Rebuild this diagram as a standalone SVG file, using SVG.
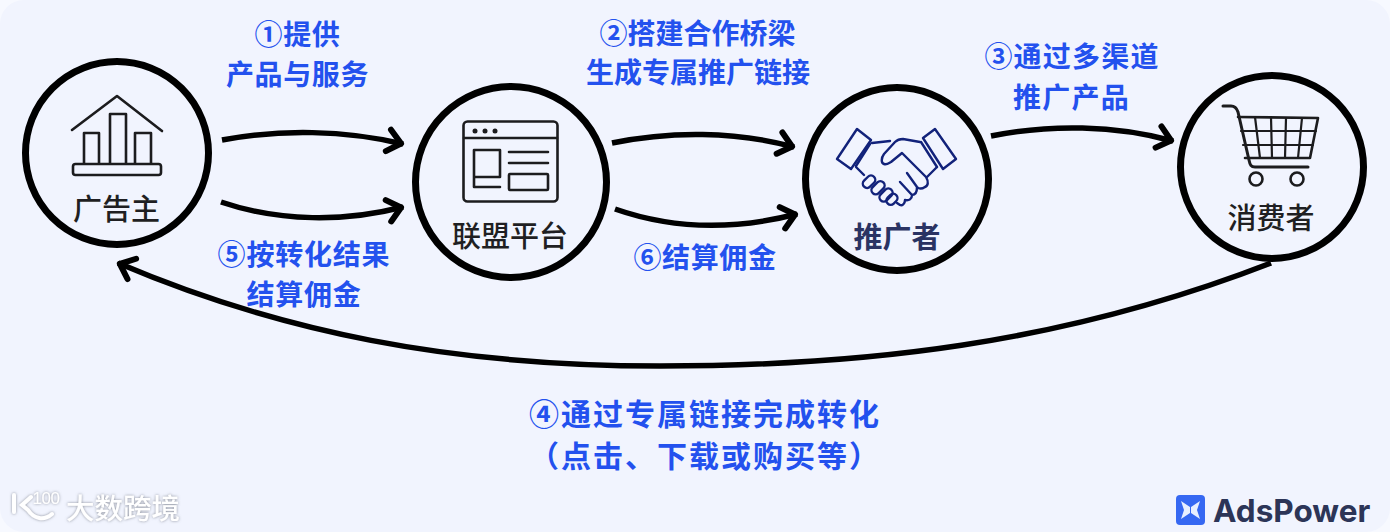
<svg xmlns="http://www.w3.org/2000/svg" width="1390" height="532" viewBox="0 0 1390 532">
<style>
.bl{font-family:"Noto Sans CJK SC","Noto Sans",sans-serif;font-weight:700;font-size:28px;fill:#2351ee;text-anchor:middle;letter-spacing:.6px}
.bg{font-size:30px;letter-spacing:2px}
.nl{font-family:"Noto Sans CJK SC","Noto Sans",sans-serif;font-weight:500;font-size:29px;fill:#1f1f22;text-anchor:middle}
.ring{fill:none;stroke:#000;stroke-width:7}
.ic{fill:none;stroke:#1c1c1e;stroke-width:2.6;stroke-linejoin:round;stroke-linecap:round}
.hs{fill:none;stroke:#12227a;stroke-width:2.4;stroke-linejoin:round;stroke-linecap:round}
.cn{fill:none;stroke:#000;stroke-width:5.5;marker-end:url(#ah)}
.wm{fill:none;stroke:#fff;stroke-linecap:round}
</style>
<defs>
<marker id="ah" markerUnits="userSpaceOnUse" markerWidth="40" markerHeight="40" viewBox="-20 -20 40 40" refX="2" refY="0" orient="auto">
<path d="M-13,-11 L0,0 L-13,11" fill="none" stroke="#000" stroke-width="6" stroke-linecap="round" stroke-linejoin="round"/>
</marker>
<filter id="sh" x="-20%" y="-30%" width="140%" height="160%"><feDropShadow dx="0" dy="0" stdDeviation="1.6" flood-color="#7f8490" flood-opacity="0.9"/></filter>
</defs>
<rect width="1390" height="532" fill="#f7f9ff"/>
<rect width="1390" height="532" rx="24" fill="#f1f4fe"/>

<g id="connectors">
<path class="cn" d="M222,140 C280,129 345,130 403,144"/>
<path class="cn" d="M221,202 C280,222 345,222 403,207"/>
<path class="cn" d="M612,143 C670,131 735,131 794,147"/>
<path class="cn" d="M615,209 C675,230 735,230 797,214"/>
<path class="cn" d="M991,136 C1050,124 1115,125 1173,141"/>
<path class="cn" d="M1271,263 C1060,345 860,366 660,366 C450,366 280,332 118,263"/>
</g>

<g id="advertiser">
<circle class="ring" cx="117" cy="153" r="91.5"/>
<path class="ic" d="M72,130 L117,96 L162,131"/>
<path class="ic" d="M84,163 V133 H99 V163 M110,163 V114 H126 V163 M135,163 V133 H151 V163"/>
<rect class="ic" x="73" y="164" width="88" height="11" rx="2.5"/>
<text class="nl" x="116.500" y="220">广告主</text>
</g>

<g id="platform">
<circle class="ring" cx="511" cy="182" r="95.5"/>
<rect class="ic" x="463.500" y="121.500" width="94" height="80" rx="4"/>
<path class="ic" d="M464,138 H557"/>
<circle cx="475" cy="131" r="2.500" fill="#1c1c1e"/><circle cx="485" cy="131" r="2.500" fill="#1c1c1e"/><circle cx="495" cy="131" r="2.500" fill="#1c1c1e"/>
<path class="ic" d="M474,177 H500 V150 H474 V187 H500"/>
<path class="ic" d="M509,152 H548 M509,163 H548"/>
<rect class="ic" x="509" y="174" width="39" height="16" rx="1"/>
<text class="nl" x="510" y="247">联盟平台</text>
</g>

<g id="promoter">
<circle class="ring" cx="897" cy="179" r="91.5"/>
<path class="hs" d="M857,129 L871,140 L851,169 L837,159 Z M935,129 L956,159 L943,169 L923,138 Z"/>
<path class="hs" d="M870,144 L856,166 M921,142 L937,167"/>
<path class="hs" d="M872,143 L890,141 M920,142 L903,139 C899,139 897,140 895,142 L884,154 C881,158 881,163 884,164 C887,165 889,163 891,162 L902,153 L926,177 C929,182 928,186 925,187 C922,189 919,189 917,187 L907,173 M917,187 C917,192 916,195 912,195 L900,182 M912,195 C912,199 909,201 905,200 M905,200 C905,204 902,206 900,205 L897,203"/>
<path class="hs" d="M856,167 L864,175 M937,167 L927,177"/>
<g class="hs">
<rect x="862" y="177.500" width="14" height="8.500" rx="4.200" transform="rotate(-45 869 181.700)"/>
<rect x="870.500" y="183.500" width="15" height="8.500" rx="4.200" transform="rotate(-45 878 187.700)"/>
<rect x="878.500" y="190.800" width="15" height="8.500" rx="4.200" transform="rotate(-45 886 195)"/>
<rect x="886" y="195" width="12" height="8.500" rx="4.200" transform="rotate(-45 892 199.300)"/>
</g>
<text x="897" y="248" style="font-family:'Noto Sans CJK SC','Noto Sans',sans-serif;font-weight:700;font-size:29px;fill:#2a3363;text-anchor:middle">推广者</text>
</g>

<g id="consumer">
<circle class="ring" cx="1272" cy="167" r="91.5"/>
<path class="ic" style="stroke-width:3" d="M1223,106 H1231 C1235,106 1237,109 1238,112 L1249,160 C1250,165 1251,167 1255,167 H1308"/>
<path class="ic" d="M1238,117 L1318,118 L1310,158 L1245,158"/>
<path class="ic" style="stroke-width:2.200" d="M1241,131 L1316,131 M1243,145 L1313,145 M1255,117 L1260,158 M1271,117 L1272,158 M1286,118 L1285,158 M1302,118 L1298,158"/>
<circle class="ic" cx="1256" cy="179" r="6.500"/>
<circle class="ic" cx="1297" cy="179" r="6.500"/>
<text class="nl" x="1271" y="229">消费者</text>
</g>

<g id="labels">
<text class="bl" x="297.500" y="45">①提供</text>
<text class="bl" x="297.500" y="85">产品与服务</text>
<text class="bl" x="697.500" y="44" style="letter-spacing:0">②搭建合作桥梁</text>
<text class="bl" x="698" y="83" style="letter-spacing:0">生成专属推广链接</text>
<text class="bl" x="1072" y="67" style="letter-spacing:1.200px">③通过多渠道</text>
<text class="bl" x="1071.500" y="108" style="letter-spacing:1.200px">推广产品</text>
<text class="bl" x="304" y="265" style="letter-spacing:.8px">⑤按转化结果</text>
<text class="bl" x="304" y="305" style="letter-spacing:.8px">结算佣金</text>
<text class="bl" x="705" y="268">⑥结算佣金</text>
<text class="bl bg" x="705" y="425">④通过专属链接完成转化</text>
<text class="bl bg" x="705" y="467">（点击、下载或购买等）</text>
</g>

<g id="watermark" filter="url(#sh)">
<path class="wm" style="stroke-width:4" d="M14,495 V512"/>
<path class="wm" style="stroke-width:4" d="M31,497 L22,505 L28,510 C34,519 44,521 52,514"/>
<text x="46" y="504" style="font-family:'Liberation Sans',sans-serif;font-size:17px;letter-spacing:-.5px;fill:#fff;text-anchor:middle">100</text>
<text x="123" y="519" style="font-family:'Noto Sans CJK SC',sans-serif;font-weight:500;font-size:28.500px;fill:#fff;text-anchor:middle">大数跨境</text>
</g>

<g id="adspower">
<rect x="1176" y="495" width="29" height="30" rx="4" fill="#3668f2"/>
<path d="M1181,501 L1190,507 L1190,513 L1181,519 L1184,510 Z M1200,501 L1191,507 L1191,513 L1200,519 L1197,510 Z" fill="#e8efff"/>
<text x="1213" y="522" style="font-family:Inter,'Liberation Sans',sans-serif;font-weight:700;font-size:31.500px;fill:#2c3557">AdsPower</text>
</g>
</svg>
